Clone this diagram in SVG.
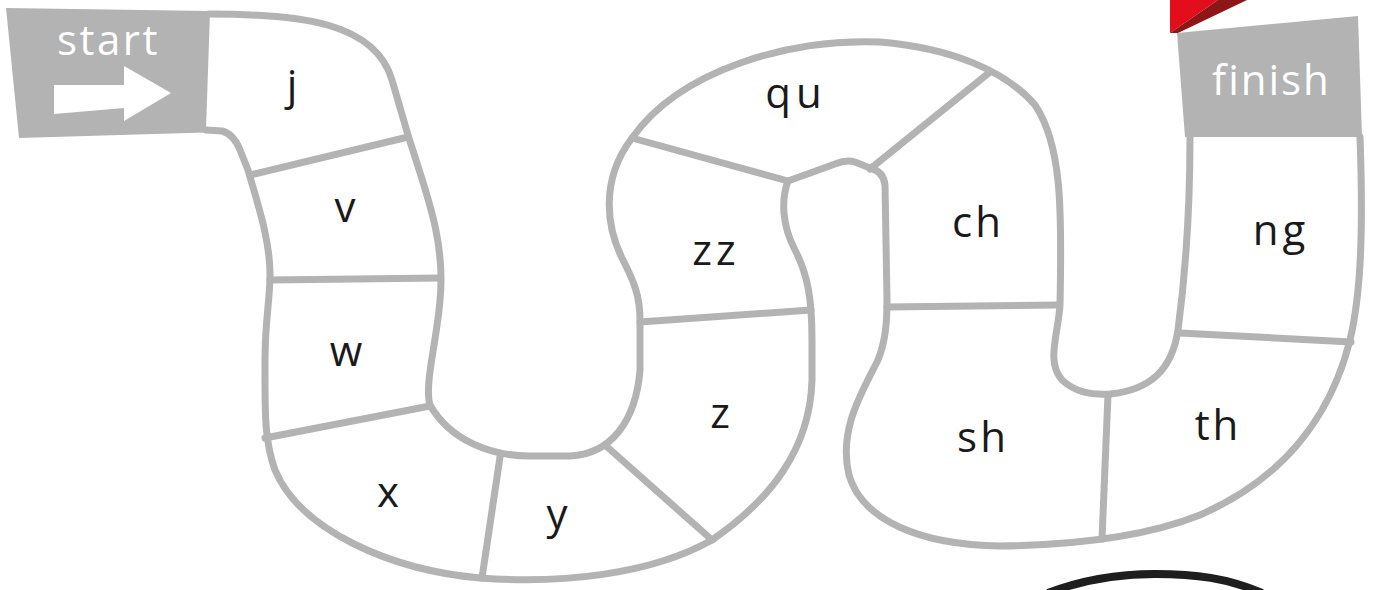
<svg xmlns="http://www.w3.org/2000/svg" width="1376" height="590" viewBox="0 0 1376 590">
<style>
.trk{fill:none;stroke:#b3b3b3;stroke-width:7;stroke-linejoin:round;stroke-linecap:round}
.lbl{font-family:"Open Sans","DejaVu Sans",sans-serif;font-size:42px;fill:#1a1a1a;text-anchor:middle}
.sign{fill:#b3b3b3}
.signtxt{font-family:"Open Sans","DejaVu Sans",sans-serif;fill:#ffffff;font-size:42px}
</style>
<rect width="1376" height="590" fill="#ffffff"/>
<g id="start-sign">
<polygon class="sign" points="6,8 210,11 206,130 222,132 19,138"/>
<text class="signtxt" x="57" y="55" letter-spacing="2.5">start</text>
<polygon fill="#ffffff" points="54,85 124,85 124,66 171,93 124,121 124,108 54,114"/>
</g>
<g id="finish-sign">
<polygon fill="#e30e1c" points="1170,0 1218,0 1170,33"/>
<polygon fill="#8e1616" points="1218,0 1247,0 1178,33 1170,33"/>
<polygon class="sign" points="1177,33 1358,16 1362,137 1185,137"/>
<text class="signtxt" x="1212" y="95" font-size="44" letter-spacing="2">finish</text>
</g>
<g id="track">
<path class="trk" d="M209,14 C300,14 375,22 392,80 L408,135 C425,190 446,240 440,300 C437,340 424,385 430,405 C450,440 490,456 530,456 L570,456 C612,454 636,420 640,370 L640,320 C640,295 633,280 624,262 C606,228 600,180 632,138 C680,70 790,38 880,42 C950,48 1005,70 1035,105 C1062,145 1062,210 1060,305 C1058,335 1046,362 1062,380 C1075,392 1090,395 1110,394 C1150,390 1172,370 1178,330 C1186,270 1190,200 1190,137"/>
<path class="trk" d="M1360,137 C1363,220 1362,290 1350,340 C1330,420 1280,480 1200,515 C1150,535 1080,545 1000,546 C920,545 862,520 849,475 C838,430 862,392 878,360 C886,340 887,320 887,300 L885,185 C884,175 878,170 870,168 L855,162 C848,160 840,162 835,164 L788,181 C781,200 782,225 795,250 C808,275 812,300 812,340 L812,380 C810,450 770,500 712,540 C650,575 560,584 480,578 C390,570 300,530 275,470 C264,440 265,410 265,360 C265,320 270,300 270,275 C270,240 258,205 248,170 L240,150 C236,140 230,133 222,131 L206,130"/>
</g>
<g id="connectors" class="trk">
<line x1="250" y1="175" x2="408" y2="137"/>
<line x1="270" y1="280" x2="440" y2="278"/>
<line x1="265" y1="438" x2="430" y2="406"/>
<line x1="500" y1="457" x2="482" y2="578"/>
<line x1="605" y1="445" x2="712" y2="540"/>
<line x1="640" y1="322" x2="811" y2="310"/>
<line x1="632" y1="138" x2="788" y2="181"/>
<line x1="870" y1="169" x2="990" y2="72"/>
<line x1="887" y1="307" x2="1058" y2="305"/>
<line x1="1108" y1="395" x2="1102" y2="539"/>
<line x1="1180" y1="333" x2="1351" y2="342"/>
</g>
<g id="cell-j"><text class="lbl" x="292" y="100">j</text></g>
<g id="cell-v"><text class="lbl" x="345" y="222">v</text></g>
<g id="cell-w"><text class="lbl" x="346" y="366">w</text></g>
<g id="cell-x"><text class="lbl" x="388" y="507">x</text></g>
<g id="cell-y"><text class="lbl" x="557" y="529">y</text></g>
<g id="cell-z"><text class="lbl" x="720" y="428">z</text></g>
<g id="cell-zz"><text class="lbl" x="716" y="265" letter-spacing="4">zz</text></g>
<g id="cell-qu"><text class="lbl" x="796" y="108" letter-spacing="5">qu</text></g>
<g id="cell-ch"><text class="lbl" x="978" y="237" letter-spacing="3">ch</text></g>
<g id="cell-sh"><text class="lbl" x="983" y="452" letter-spacing="3">sh</text></g>
<g id="cell-th"><text class="lbl" x="1218" y="440" letter-spacing="3">th</text></g>
<g id="cell-ng"><text class="lbl" x="1281" y="245" letter-spacing="4">ng</text></g>
<path fill="none" stroke="#1e1e1e" stroke-width="8" d="M1048,593 C1090,577 1125,574 1155,574 C1195,574 1228,578 1262,593"/>
</svg>
